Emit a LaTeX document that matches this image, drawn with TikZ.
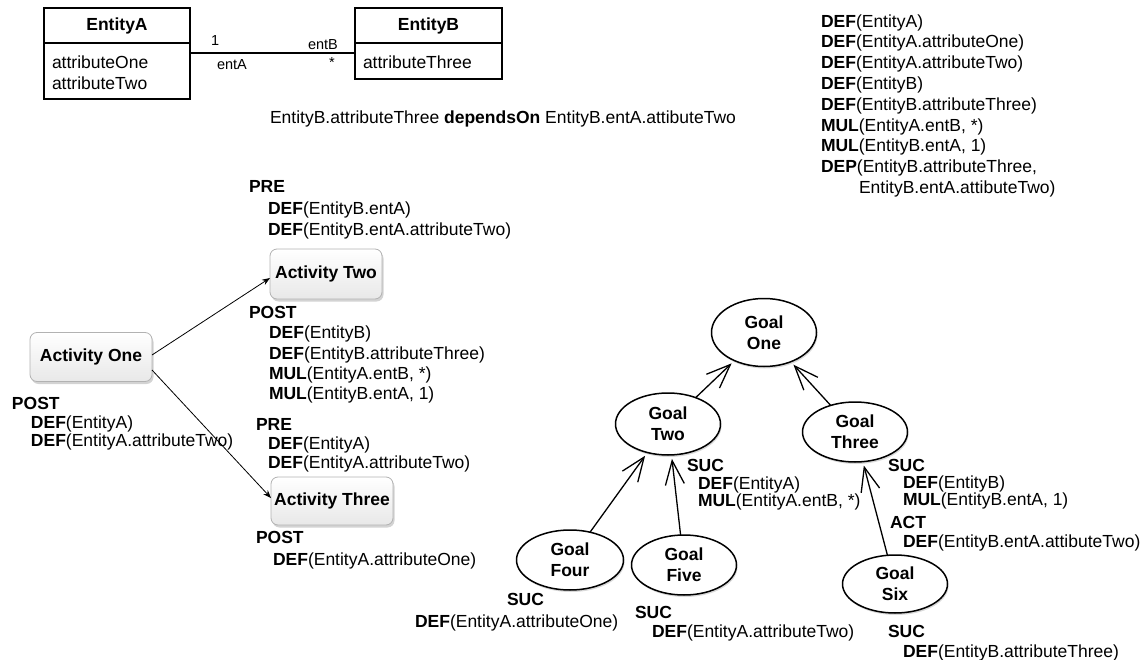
\documentclass[tikz,border=0pt]{standalone}
\usepackage{fontspec}
\setmainfont{Liberation Sans}
\usetikzlibrary{arrows.meta,shapes.geometric,shadows}
\begin{document}
\begin{tikzpicture}[x=1pt,y=-1pt,
  every node/.style={inner sep=0pt, outer sep=0pt},
  txt/.style={anchor=north west, align=left, font=\fontsize{17.5}{#1}\selectfont},
  txt/.default=21,
  small/.style={anchor=base west, font=\fontsize{14.5}{17}\selectfont},
  umlbox/.style={draw, line width=1.1pt, anchor=north west},
  titlefont/.style={font=\bfseries\fontsize{17.5}{21}\selectfont},
  act/.style={draw=gray!60, line width=0.8pt, rounded corners=7pt, top color=white, bottom color=gray!18,
    drop shadow={opacity=0.35, shadow xshift=1.5pt, shadow yshift=-2.5pt},
    font=\bfseries\fontsize{17.5}{21}\selectfont},
  actarrow/.style={-{Stealth[length=8pt,width=6pt]}, line width=0.8pt},
  goal/.style={ellipse, draw, line width=1.5pt, fill=white,
    drop shadow={opacity=0.3, shadow xshift=1pt, shadow yshift=-2pt},
    font=\bfseries\fontsize{17.5}{21}\selectfont, align=center},
  goalarrow/.style={-{Straight Barb[length=24pt,width=19pt]}, line width=1.3pt, shorten >=4pt}
]
\useasboundingbox (0,0) rectangle (1145,660);

% UML classes
\node[umlbox, titlefont, minimum width=146pt, minimum height=35pt] (eaT) at (44,8) {EntityA};
\node[umlbox, minimum width=146pt, minimum height=56pt] (eaB) at (44,43) {};
\node[txt] (eaAttr) at (52,55.5) {attributeOne\\attributeTwo};
\node[umlbox, titlefont, minimum width=147pt, minimum height=35pt] (ebT) at (355,8) {EntityB};
\node[umlbox, minimum width=147pt, minimum height=36pt] (ebB) at (355,43) {};
\node[txt] (ebAttr) at (363,55.5) {attributeThree};
\draw[line width=1.1pt] ([yshift=-10pt]eaB.north east) -- ([yshift=-10pt]ebB.north west);
\node[small] (m1) at (211,46) {1};
\node[small] (rA) at (217,70) {entA};
\node[small] (rB) at (308,50) {entB};
\node[small] (mS) at (329,68) {*};

\node[txt] (dep) at (270,110.5) {EntityB.attributeThree \textbf{dependsOn} EntityB.entA.attibuteTwo};

\node[txt=20.8] (defs) at (821,14.5) {\textbf{DEF}(EntityA)\\
\textbf{DEF}(EntityA.attributeOne)\\
\textbf{DEF}(EntityA.attributeTwo)\\
\textbf{DEF}(EntityB)\\
\textbf{DEF}(EntityB.attributeThree)\\
\textbf{MUL}(EntityA.entB, *)\\
\textbf{MUL}(EntityB.entA, 1)\\
\textbf{DEP}(EntityB.attributeThree,\\
\hspace*{38pt}EntityB.entA.attibuteTwo)};

% Activities
\node[act, minimum width=122pt, minimum height=49pt] (a1) at (91,357) {Activity One};
\node[act, minimum width=112pt, minimum height=50pt] (a2) at (326,274) {Activity Two};
\node[act, minimum width=122pt, minimum height=48pt] (a3) at (332,501) {Activity Three};
\draw[actarrow] ([yshift=2pt]a1.east) -- ([yshift=-4pt]a2.west);
\draw[actarrow] ([yshift=-13pt]a1.east) -- ([yshift=3pt]a3.west);

\node[txt=21.5] (a2pre) at (249,180.5) {\textbf{PRE}\\
\hspace*{19pt}\textbf{DEF}(EntityB.entA)\\
\hspace*{19pt}\textbf{DEF}(EntityB.entA.attributeTwo)};
\node[txt=20.2] (a2post) at (249,306.5) {\textbf{POST}\\
\hspace*{20pt}\textbf{DEF}(EntityB)\\
\hspace*{20pt}\textbf{DEF}(EntityB.attributeThree)\\
\hspace*{20pt}\textbf{MUL}(EntityA.entB, *)\\
\hspace*{20pt}\textbf{MUL}(EntityB.entA, 1)};
\node[txt=18.5] (a1post) at (12,397.5) {\textbf{POST}\\
\hspace*{19pt}\textbf{DEF}(EntityA)\\
\hspace*{19pt}\textbf{DEF}(EntityA.attributeTwo)};
\node[txt=19] (a3pre) at (256,418.5) {\textbf{PRE}\\
\hspace*{12pt}\textbf{DEF}(EntityA)\\
\hspace*{12pt}\textbf{DEF}(EntityA.attributeTwo)};
\node[txt=22] (a3post) at (256,531.5) {\textbf{POST}\\
\hspace*{17pt}\textbf{DEF}(EntityA.attributeOne)};

% Goals
\node[goal, minimum width=105pt, minimum height=68pt] (g1) at (764,332.5) {Goal\\One};
\node[goal, minimum width=105pt, minimum height=62pt] (g2) at (668,424) {Goal\\Two};
\node[goal, minimum width=105pt, minimum height=60pt] (g3) at (855,432) {Goal\\Three};
\node[goal, minimum width=107pt, minimum height=60pt] (g4) at (570,560) {Goal\\Four};
\node[goal, minimum width=105pt, minimum height=60pt] (g5) at (684,565) {Goal\\Five};
\node[goal, minimum width=105pt, minimum height=58pt] (g6) at (895,584) {Goal\\Six};
\draw[goalarrow] (g2) -- (g1);
\draw[goalarrow] (g3) -- (g1);
\draw[goalarrow] (g4) -- (g2);
\draw[goalarrow] (g5) -- (g2);
\draw[goalarrow] (g6) -- (g3);

\node[txt=17.5] (g2suc) at (687,459.5) {\textbf{SUC}\\
\hspace*{11pt}\textbf{DEF}(EntityA)\\
\hspace*{11pt}\textbf{MUL}(EntityA.entB, *)};
\node[txt=16.8] (g3suc) at (888,459.5) {\textbf{SUC}\\
\hspace*{15pt}\textbf{DEF}(EntityB)\\
\hspace*{15pt}\textbf{MUL}(EntityB.entA, 1)};
\node[txt=19] (g3act) at (890,516.5) {\textbf{ACT}\\
\hspace*{13pt}\textbf{DEF}(EntityB.entA.attibuteTwo)};
\node[txt=22] (g4suc) at (415,593.5) {\hspace*{92pt}\textbf{SUC}\\
\textbf{DEF}(EntityA.attributeOne)};
\node[txt=19] (g5suc) at (635,606.5) {\textbf{SUC}\\
\hspace*{17pt}\textbf{DEF}(EntityA.attributeTwo)};
\node[txt=20] (g6suc) at (888,625.5) {\textbf{SUC}\\
\hspace*{15pt}\textbf{DEF}(EntityB.attributeThree)};
\end{tikzpicture}
\end{document}
